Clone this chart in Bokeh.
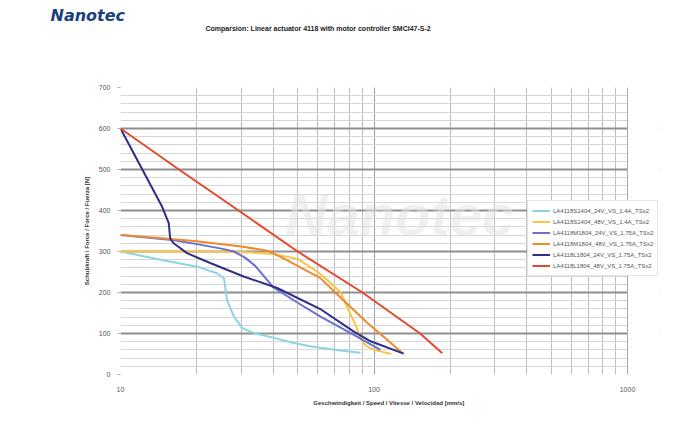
from bokeh.plotting import figure
from bokeh.models import (Range1d, FixedTicker, SingleIntervalTicker, Legend, LegendItem,
                          Label, BoxAnnotation, Span, Title)
from bokeh.embed import file_html
from bokeh.resources import INLINE

# ---- data ----
title_text = "Comparsion: Linear actuator 4118 with motor controller SMCI47-S-2"
x_title = "Geschwindigkeit / Speed / Vitesse / Velocidad   [mm/s]"
y_title = "Schubkraft / Force / Force / Fuerza [N]"
logo_text = "Nanotec"

x_major = [10, 100, 1000]
x_minor = [20, 30, 40, 50, 60, 70, 80, 90, 200, 300, 400, 500, 600, 700, 800, 900]

names = [
    "LA4118S1404_24V_VS_1.4A_TSx2",
    "LA4118S1404_48V_VS_1.4A_TSx2",
    "LA4118M1804_24V_VS_1.75A_TSx2",
    "LA4118M1804_48V_VS_1.75A_TSx2",
    "LA4118L1804_24V_VS_1.75A_TSx2",
    "LA4118L1804_48V_VS_1.75A_TSx2",
]
colors = ["#8ed3e2", "#f7c548", "#6b6fd0", "#ee8a2e", "#2f2f86", "#e5482c"]

speed_1 = [10, 14.4, 20.1, 24.0, 25.6, 26.3, 28.0, 30.2, 33.6, 40, 48.3, 56, 61.5, 75, 88.5]
force_1 = [300, 280, 263, 247, 235, 182, 142, 113, 101, 90, 77, 69, 65, 58, 53]

speed_2 = [10, 20, 30, 40, 50, 60, 67, 74, 81, 85, 89, 93, 100, 117]
force_2 = [300, 300, 299, 294, 282, 250, 225, 200, 145, 118, 85, 70, 60, 50]

speed_3 = [10, 16, 20, 25, 28, 31, 34, 40, 50, 62, 83, 106]
force_3 = [340, 328, 318, 307, 300, 285, 265, 213, 175, 140, 97, 60]

speed_4 = [10, 15, 20, 30, 38, 44, 51, 61.5, 69, 83, 94, 110, 129]
force_4 = [340, 332, 325, 312, 302, 283, 262, 235, 205, 158, 126, 90, 53]

speed_5 = [10, 14.6, 15.5, 15.7, 16.2, 18.3, 20.5, 22.6, 30.6, 41.5, 62, 83, 97, 131]
force_5 = [600, 409, 369, 332, 320, 296, 283, 272, 239, 211, 158, 105, 81, 51]

speed_6 = [10, 17, 30, 50, 90, 152, 186]
force_6 = [600, 500, 395, 300, 200, 100, 52]

speeds = [speed_1, speed_2, speed_3, speed_4, speed_5, speed_6]
forces = [force_1, force_2, force_3, force_4, force_5, force_6]

FONT = "Liberation Sans"

# layout geometry (pixels)
W, H = 661, 408
FL, FT, FB, FR = 120, 87, 375, 660
DECADE = 253.5
x_end = 10 ** (3 + (FR - 627) / DECADE)

p = figure(width=W, height=H, x_axis_type="log", title=None,
           x_range=Range1d(10, x_end), y_range=Range1d(0, 700),
           output_backend="svg", toolbar_location=None,
           min_border_left=FL, min_border_right=W - FR,
           min_border_top=FT, min_border_bottom=H - FB)
p.background_fill_color = "white"
p.border_fill_color = "white"
p.outline_line_color = None

# axes
p.xaxis.ticker = FixedTicker(ticks=x_major, minor_ticks=x_minor)
p.yaxis.ticker = SingleIntervalTicker(interval=100, num_minor_ticks=5)
p.xaxis.major_label_overrides = {10: "10", 100: "100", 1000: "1000"}
for ax in (p.xaxis[0], p.yaxis[0]):
    ax.axis_line_color = None
    ax.major_tick_line_color = "#b0b0b0"
    ax.major_tick_out = 3
    ax.major_tick_in = 0
    ax.minor_tick_line_color = None
    ax.major_label_text_font = FONT
    ax.major_label_text_font_size = "7px"
    ax.major_label_text_color = "#555555"
    ax.axis_label_text_font = FONT
    ax.axis_label_text_font_size = "6px"
    ax.axis_label_text_font_style = "bold"
    ax.axis_label_text_color = "#333333"
p.xaxis.major_tick_line_color = None
p.xaxis.axis_label = x_title
p.yaxis.axis_label = y_title
p.xaxis.major_label_standoff = 8
p.yaxis.major_label_standoff = 6
p.xaxis.axis_label_standoff = 5
p.yaxis.axis_label_standoff = 6

# grids
p.ygrid.grid_line_color = "#8f8f8f"
p.ygrid.grid_line_width = 2
p.ygrid.minor_grid_line_color = "#d6d6d6"
p.ygrid.minor_grid_line_width = 1
p.xgrid.grid_line_color = "#a0a0a0"
p.xgrid.grid_line_width = 1
p.xgrid.minor_grid_line_color = "#bdbdbd"
p.xgrid.minor_grid_line_width = 1

# blank the strip right of 1000 (space only used by the legend)
p.add_layout(BoxAnnotation(left=1000, right=x_end, bottom=0, top=700,
                           fill_color="white", fill_alpha=1,
                           line_color=None, level="glyph"))
p.add_layout(Span(location=1000, dimension="height", line_color="#a8a8a8",
                  line_width=1, level="glyph"))

# watermark
wm = Label(x=165, y=160, x_units="screen", y_units="screen", text="Nanotec",
           text_font=FONT, text_font_size="58px", text_font_style="bold italic",
           text_color="#e3e3e3", text_alpha=0.55, text_baseline="middle",
           level="underlay")
p.add_layout(wm)

# curves
items = []
for s, f, c, n in zip(speeds, forces, colors, names):
    r = p.line(s, f, line_color=c, line_width=2)
    items.append(LegendItem(label=n, renderers=[r]))

legend = Legend(items=items, location=(407, 98), orientation="vertical",
                label_text_font=FONT, label_text_font_size="6px",
                label_text_color="#555555", glyph_width=18, glyph_height=11,
                label_height=11, spacing=0, padding=4, margin=0,
                label_standoff=3, border_line_color="#cccccc",
                background_fill_color="white", background_fill_alpha=1)
p.add_layout(legend, "center")

# title (extra blank lines lift it well above the plot) and logo
p.add_layout(Title(text=title_text + "\n " * 8, align="left", offset=85, standoff=0,
                   text_font=FONT, text_font_size="7px", text_font_style="bold",
                   text_color="#222222", text_line_height=1.0), "above")
p.add_layout(Title(text=logo_text, align="left", offset=-70, standoff=-4,
                   text_font="DejaVu Sans", text_font_size="16px",
                   text_font_style="bold italic", text_color="#1c3f7e"), "above")

open("out.html", "w").write(file_html(p, INLINE))
